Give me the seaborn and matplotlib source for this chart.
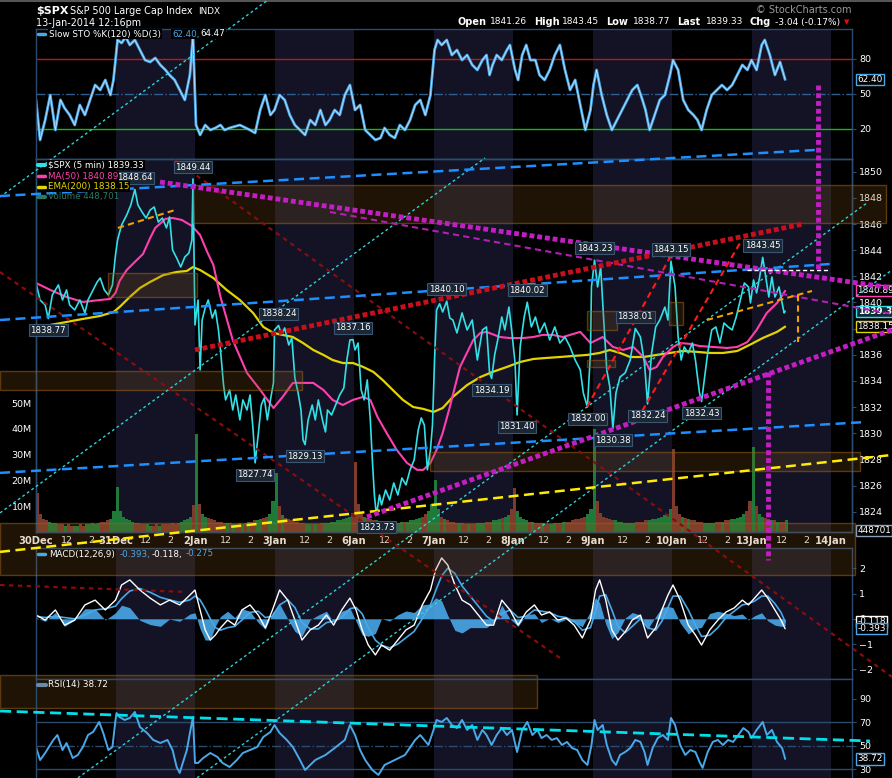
import numpy as np
import matplotlib
matplotlib.use("Agg")
import matplotlib.pyplot as plt
import seaborn as sns
from matplotlib.patches import Rectangle
from matplotlib.lines import Line2D

sns.set_theme(style="dark", rc={
    "figure.facecolor": "black", "axes.facecolor": "black",
    "axes.edgecolor": "#2b4c6f", "text.color": "white",
    "xtick.color": "white", "ytick.color": "white",
    "axes.grid": False, "axes.linewidth": 1.0,
})
plt.rcParams['font.family'] = ['DejaVu Sans']

W, H = 892, 778
BARS_PER_DAY = 78
X_MAX = 800.6

# ---------------- data ----------------
day_names = ["30Dec", "31Dec", "2Jan", "3Jan", "6Jan", "7Jan", "8Jan",
             "9Jan", "10Jan", "13Jan", "14Jan"]
shaded_days = [1, 3, 5, 7, 9]

# $SPX 5-min (bar index from 30Dec open, value)
price_bar = [0, 4, 9, 12, 16, 22, 26, 30, 33, 38, 43, 48, 51, 55, 60, 63, 67, 71, 75,
             78, 80, 84, 89, 93, 97, 100, 104, 108, 112, 116, 120, 124, 128, 131, 134, 138, 142, 146, 150, 153, 154,
             156, 159, 161, 163, 166, 169, 173, 176, 179, 181, 184, 186, 190, 193, 196, 200, 203, 207, 210, 213, 215,
             218, 221, 224, 227, 230, 233,
             234, 238, 241, 244, 248, 251, 254, 257, 260, 262, 264, 267, 271, 274, 277, 281, 284, 286, 290, 294, 298,
             302, 305, 308, 311,
             313, 316, 319, 322, 325, 328, 330, 332, 334, 337, 339, 343, 347, 351, 355, 359, 363, 367, 371, 375, 378,
             381, 384, 387, 389,
             391, 393, 396, 399, 403, 406, 409, 413, 418, 423, 428, 433, 438, 442, 445, 447, 450, 453, 457, 460, 464, 467,
             470, 472, 475, 479, 482, 486, 490, 494, 499, 504, 509, 514, 519, 524, 529, 534, 537, 541, 544, 545,
             548, 551, 554, 557, 560, 563, 566, 569, 573, 578, 583, 588, 593, 597, 600, 604, 608, 612, 617, 620, 623,
             627, 630, 633, 636, 640, 644, 647, 649, 651, 653, 656, 659, 663, 667, 671, 675, 679, 683, 687, 691, 695,
             699, 701,
             704, 707, 710, 713, 716, 719, 722, 725, 729, 732, 734, 735]
price_val = [1841.49, 1840.19, 1839.81, 1838.77, 1840.57, 1841.34, 1840.19, 1840.96, 1839.81, 1839.43, 1840.19,
             1839.20, 1840.19, 1840.80, 1841.57, 1841.87, 1840.96, 1840.57, 1841.34,
             1843.63, 1844.78, 1845.93, 1846.69, 1847.45, 1848.64, 1847.45, 1846.92, 1846.46, 1847.07, 1847.30,
             1846.15, 1846.46, 1845.70, 1846.54, 1844.01, 1843.40, 1842.71, 1843.48, 1843.78, 1844.78, 1849.44,
             1838.28, 1840.19, 1834.84, 1838.66, 1839.58, 1840.19, 1838.81, 1839.43, 1837.90, 1836.37, 1833.69,
             1832.55, 1833.31, 1831.78, 1832.93, 1831.02, 1832.55, 1831.78, 1832.93, 1830.25, 1827.74, 1829.87,
             1832.16, 1832.70, 1831.02, 1832.55, 1833.85,
             1837.90, 1838.24, 1837.52, 1838.05, 1836.75, 1837.28, 1834.21, 1833.16, 1831.78, 1829.49, 1829.13,
             1831.02, 1832.16, 1831.02, 1832.55, 1831.02, 1830.10, 1831.78, 1831.40, 1832.16, 1832.93, 1833.46,
             1835.60, 1837.13, 1837.16,
             1836.37, 1836.90, 1833.31, 1832.55, 1834.08, 1831.02, 1827.96, 1825.28, 1823.73, 1825.28, 1824.52,
             1825.66, 1824.90, 1826.20, 1825.28, 1826.58, 1826.05, 1827.20, 1827.96, 1830.25, 1831.17, 1830.63,
             1827.20, 1828.72, 1830.63,
             1835.60, 1839.43, 1839.90, 1839.27, 1840.10, 1838.81, 1838.66, 1837.67, 1839.20, 1837.90, 1838.66,
             1835.60, 1837.90, 1838.13, 1834.61, 1834.19, 1835.99, 1837.13, 1838.89, 1837.90, 1839.65, 1837.67,
             1835.37, 1831.40, 1836.60, 1838.89, 1840.02, 1838.13, 1838.89, 1837.67, 1838.43, 1837.13, 1838.13,
             1836.90, 1837.36, 1836.60, 1835.60, 1834.84, 1833.08, 1832.00, 1836.14, 1841.19,
             1843.23, 1841.19, 1842.71, 1838.66, 1834.84, 1833.54, 1830.38, 1833.08, 1834.30, 1834.61, 1835.60,
             1838.01, 1837.36, 1835.37, 1832.24, 1836.14, 1838.13, 1838.66, 1839.65, 1838.66, 1843.15,
             1841.19, 1837.36, 1835.60, 1836.60, 1836.14, 1836.90, 1835.60, 1834.30, 1833.08, 1832.43, 1834.30,
             1836.14, 1837.90, 1838.13, 1836.90, 1838.43, 1838.13, 1837.90, 1838.89, 1840.19, 1841.49, 1841.19,
             1839.96,
             1841.72, 1840.73, 1841.95, 1843.45, 1841.95, 1840.42, 1841.95, 1840.42, 1841.19, 1839.96, 1839.20,
             1839.33]

ma50_bar = [0, 14, 30, 46, 63, 73, 78, 82, 89, 97, 105, 112, 117, 127, 134, 143, 153, 161, 168, 174,
            181, 193, 207, 220, 233, 242, 252, 262, 272, 282, 291, 301, 311, 321, 328, 335, 344, 354, 364, 374,
            380, 387, 393, 399, 406, 416, 429, 436, 442, 455, 465, 478, 488, 497, 507, 517, 534, 544, 550, 556,
            566, 576, 586, 596, 602, 609, 615, 625, 632, 642, 651, 664, 678, 688, 698, 707, 717, 727, 735]
ma50_val = [1841.49, 1840.96, 1840.42, 1840.04, 1840.19, 1840.27, 1840.73, 1841.64, 1842.48, 1843.10,
            1843.71, 1844.93, 1845.70, 1846.39, 1846.46, 1846.31, 1845.85, 1845.16, 1843.86, 1842.87,
            1840.42, 1837.13, 1834.61, 1833.31, 1831.93, 1832.78, 1833.85, 1833.85, 1833.85, 1833.31,
            1832.55, 1832.16, 1832.55, 1832.78, 1832.55, 1831.25, 1830.02, 1828.72, 1827.73, 1827.20,
            1827.20, 1827.73, 1828.72, 1830.02, 1832.01, 1835.07, 1837.13, 1837.67, 1837.75, 1837.36,
            1837.28, 1837.28, 1837.36, 1837.52, 1837.52, 1837.36, 1837.75, 1836.90, 1837.13, 1837.36,
            1836.60, 1836.37, 1836.60, 1835.83, 1834.84, 1835.07, 1835.83, 1836.60, 1836.90, 1836.83,
            1836.67, 1836.60, 1836.52, 1836.60, 1836.98, 1837.90, 1839.20, 1839.96, 1840.89]

ema200_bar = [0, 14, 30, 46, 63, 76, 82, 92, 102, 112, 125, 138, 148, 154, 161, 174, 187, 200, 213, 223,
              233, 242, 252, 262, 272, 282, 291, 301, 311, 321, 331, 340, 350, 360, 370, 380, 390, 399, 409, 423,
              436, 448, 462, 475, 488, 501, 514, 527, 541, 553, 563, 573, 583, 596, 609, 622, 635, 649, 661, 674,
              688, 700, 713, 727, 735]
ema200_val = [1837.75, 1838.28, 1838.51, 1838.74, 1838.97, 1839.27, 1839.65, 1840.42, 1841.11, 1841.57,
              1842.10, 1842.33, 1842.41, 1842.71, 1842.48, 1841.87, 1840.96, 1840.19, 1839.20, 1838.13,
              1837.67, 1837.52, 1837.36, 1836.90, 1836.37, 1835.99, 1835.60, 1835.37, 1835.37, 1835.07,
              1834.69, 1834.08, 1833.31, 1832.55, 1832.01, 1831.86, 1831.63, 1831.93, 1832.78, 1833.69,
              1834.30, 1834.69, 1835.07, 1835.45, 1835.68, 1835.76, 1835.83, 1835.91, 1835.99, 1836.14,
              1836.37, 1836.14, 1835.83, 1835.83, 1835.99, 1836.14, 1836.29, 1836.22, 1836.14, 1836.14,
              1836.29, 1836.75, 1837.28, 1837.75, 1838.15]

# volume in millions, one value per 15 minutes, one row per session
vol_by_day = [
    [15, 7, 5, 4.5, 4, 3.5, 3.5, 3, 3, 2.5, 3, 2.5, 2.5, 2.5, 3, 2.5, 3, 3, 3.5, 3, 3.5, 4, 4, 4.5, 5, 8],
    [17.5, 8, 6, 5, 4.5, 4, 3.5, 3.5, 3, 3, 3, 2.5, 2.5, 3, 2.5, 3, 3, 3, 3.5, 3, 3.5, 4, 4.5, 5, 6, 10.5],
    [38, 11, 7, 6, 5.5, 5, 4.5, 4, 4, 3.5, 3.5, 3.5, 3, 3, 3.5, 3, 3.5, 4, 4, 4.5, 4.5, 5, 5.5, 6, 7, 12],
    [23, 10, 6.5, 5.5, 5, 4.5, 4, 4, 3.5, 3.5, 3, 3, 3, 3, 3, 3.5, 3.5, 3.5, 4, 4, 4.5, 4.5, 5, 5.5, 6, 7.5],
    [27, 11, 7, 6, 5.5, 5, 4.5, 4.5, 4, 4, 3.5, 3.5, 3.5, 3.5, 3.5, 4, 4, 4, 4.5, 4.5, 5, 5.5, 6, 7, 8, 11],
    [20, 9, 6, 5, 4.5, 4, 4, 3.5, 3.5, 3.5, 3, 3, 3, 3, 3.5, 3.5, 3.5, 4, 4, 4.5, 4.5, 5, 5.5, 6, 6.5, 9],
    [17, 8, 6, 5, 4.5, 4, 4, 3.5, 3.5, 3.5, 3, 3, 3, 3.5, 3.5, 3.5, 4, 4, 4, 4.5, 5, 5, 5.5, 6, 7, 9],
    [40, 12, 7.5, 6, 5.5, 5, 4.5, 4.5, 4, 4, 3.5, 3.5, 3.5, 3.5, 4, 4, 4, 4.5, 4.5, 5, 5, 5.5, 6, 6.5, 7, 9],
    [32, 10, 7, 6, 5.5, 5, 4.5, 4.5, 4, 4, 3.5, 3.5, 3.5, 3.5, 4, 4, 4, 4.5, 4.5, 5, 5, 5.5, 6, 7, 8, 12],
    [33, 10, 7, 6, 5.5, 5, 4.5, 4.5, 4, 4, 4, 4.5],
]

sto_bar = [0, 4, 9, 14, 19, 24, 28, 33, 38, 43,
           48, 53, 58, 63, 68, 73, 76, 78, 80, 84,
           88, 92, 97, 102, 107, 112, 117, 122, 127, 131,
           136, 141, 146, 151, 154, 157, 161, 166, 171, 176,
           181, 185, 190, 200, 210, 215, 220, 225, 230, 234,
           239, 244, 249, 254, 259, 264, 269, 274, 279, 284,
           288, 293, 298, 303, 308, 313, 318, 323, 328, 333,
           338, 342, 347, 352, 357, 362, 367, 372, 377, 382,
           387, 391, 394, 398, 403, 408, 413, 418, 423, 428,
           433, 438, 442, 445, 448, 452, 457, 462, 465, 470,
           473, 477, 481, 485, 490, 494, 499, 504, 509, 514,
           519, 524, 529, 534, 539, 544, 547, 550, 555, 560,
           565, 570, 575, 580, 585, 590, 595, 598, 602, 607,
           612, 617, 622, 625, 630, 635, 640, 645, 649, 653,
           658, 663, 668, 673, 678, 683, 688, 693, 698, 702,
           707, 712, 715, 720, 725, 730, 735]
sto_val = [44.9, 10.6, 27.7, 49.1, 19.1, 44.9, 38.0, 32.0, 23.4, 40.6,
           32.0, 44.9, 57.7, 53.4, 62.0, 49.1, 62.0, 79.1, 96.3, 93.7,
           98.9, 92.0, 96.3, 87.7, 79.1, 77.4, 80.9, 74.9, 70.6, 66.3,
           62.0, 53.4, 44.9, 66.3, 100.0, 23.4, 14.9, 23.4, 19.1, 20.9,
           23.4, 19.1, 20.9, 23.4, 19.1, 16.6, 36.3, 49.1, 32.0, 36.3,
           49.1, 44.9, 32.0, 23.4, 19.1, 14.9, 27.7, 23.4, 36.3, 23.4,
           27.7, 36.3, 32.0, 49.1, 57.7, 36.3, 40.6, 19.1, 14.9, 10.6,
           12.3, 20.9, 14.9, 12.3, 23.4, 19.1, 27.7, 40.6, 44.9, 32.0,
           49.1, 87.7, 96.3, 92.0, 96.3, 83.4, 87.7, 79.1, 83.4, 74.9,
           70.6, 79.1, 83.4, 66.3, 74.9, 83.4, 79.1, 87.7, 92.0, 70.6,
           62.0, 83.4, 92.0, 79.1, 79.1, 66.3, 62.0, 70.6, 83.4, 92.0,
           70.6, 53.4, 62.0, 40.6, 19.1, 36.3, 57.7, 70.6, 49.1, 32.0,
           19.1, 27.7, 36.3, 44.9, 53.4, 57.7, 44.9, 36.3, 19.1, 32.0,
           44.9, 49.1, 66.3, 79.1, 70.6, 44.9, 36.3, 32.0, 27.7, 19.1,
           36.3, 49.1, 53.4, 57.7, 53.4, 57.7, 66.3, 74.9, 70.6, 79.1,
           70.6, 92.0, 96.3, 83.4, 66.3, 77.4, 62.4]

macd_bar = [0, 9, 19, 28, 38, 48, 58, 68, 78, 84,
            92, 102, 112, 122, 131, 141, 151, 156, 161, 166,
            171, 176, 181, 188, 195, 202, 210, 218, 225, 232,
            239, 247, 254, 261, 269, 277, 285, 292, 300, 308,
            314, 320, 326, 333, 339, 347, 355, 363, 371, 379,
            387, 392, 398, 404, 411, 418, 426, 434, 442, 449,
            457, 465, 473, 481, 489, 496, 504, 512, 520, 528,
            536, 544, 549, 553, 559, 565, 571, 578, 585, 593,
            600, 608, 614, 620, 625, 632, 640, 647, 653, 661,
            669, 677, 685, 693, 699, 705, 712, 718, 725, 731, 735]
macd_val = [0.15, -0.05, 0.35, -0.25, -0.05, 0.55, 0.74, 0.35, 0.74, 1.34,
            1.54, 1.14, 0.82, 0.55, 0.74, 0.55, 0.94, 1.14, 0.35, -0.44,
            -0.84, -0.64, -0.36, -0.05, -0.25, 0.35, 0.55, 0.15, -0.36, 0.35,
            1.14, 0.74, -0.05, -0.84, -0.44, -0.25, 0.15, -0.25, 0.35, 0.82,
            0.35, -0.44, -1.04, -1.43, -1.04, -1.24, -0.84, -0.44, -0.25, 0.55,
            1.14, 1.93, 2.41, 2.13, 1.34, 0.74, 0.55, 0.15, -0.25, -0.25,
            0.74, 0.35, -0.25, 0.27, 0.55, 0.15, 0.27, -0.05, 0.03, -0.25,
            -0.76, -0.05, 1.14, 1.54, 0.74, -0.44, -0.84, -0.52, -0.05, 0.15,
            -0.76, -0.36, 0.35, 0.94, 1.34, 0.74, -0.25, -0.64, -1.04, -0.44,
            -0.05, 0.27, 0.43, 0.74, 0.55, 0.82, 1.14, 0.82, 0.35, -0.05, -0.393]
signal_val = [0.10, 0.05, 0.10, 0.05, 0.00, 0.15, 0.35, 0.40, 0.50, 0.80,
              1.10, 1.20, 1.05, 0.85, 0.75, 0.65, 0.75, 0.90, 0.75, 0.40,
              0.00, -0.35, -0.45, -0.35, -0.30, -0.05, 0.25, 0.30, 0.05, 0.10,
              0.55, 0.75, 0.45, -0.15, -0.40, -0.40, -0.15, -0.10, 0.05, 0.40,
              0.45, 0.20, -0.35, -0.85, -1.05, -1.15, -1.00, -0.75, -0.50, 0.00,
              0.55, 1.10, 1.70, 2.00, 1.80, 1.30, 0.90, 0.50, 0.10, -0.10,
              0.20, 0.35, 0.05, 0.10, 0.35, 0.30, 0.25, 0.10, 0.05, -0.10,
              -0.45, -0.35, 0.30, 0.90, 0.95, 0.35, -0.30, -0.55, -0.30, 0.00,
              -0.35, -0.45, -0.10, 0.45, 0.90, 0.90, 0.35, -0.25, -0.70, -0.65,
              -0.35, 0.05, 0.30, 0.55, 0.60, 0.70, 0.90, 0.90, 0.60, 0.25, -0.118]

rsi_bar = [0, 4, 9, 17, 21, 26, 30, 36, 41, 46, 51, 56, 62, 66, 71, 75, 78, 79, 82, 87,
           92, 97, 102, 109, 115, 122, 129, 134, 138, 141, 144, 148, 151, 154, 156, 159, 164, 171, 178, 183,
           190, 197, 203, 210, 217, 223, 230, 234, 239, 246, 252, 259, 264, 274, 284, 293, 303, 308, 313, 318,
           323, 330, 336, 342, 352, 362, 372, 377, 385, 390, 393, 398, 403, 408, 413, 418, 423, 428, 433, 438,
           442, 447, 452, 457, 462, 467, 472, 477, 482, 487, 492, 496, 501, 506, 511, 516, 521, 526, 531, 536,
           541, 545, 548, 551, 556, 560, 565, 569, 573, 578, 583, 588, 593, 597, 600, 605, 610, 615, 620, 623,
           627, 632, 637, 642, 647, 651, 654, 659, 664, 669, 674, 679, 684, 689, 694, 699, 702, 707, 713, 717,
           722, 727, 732, 734, 735]
rsi_val = [48.9, 37.8, 43.8, 54.9, 59.1, 46.3, 52.3, 39.5, 42.1, 48.9, 59.1, 61.7, 70.2, 60.8, 46.3, 48.9, 71.9,
           77.8, 74.4, 71.9,
           73.6, 78.7, 65.9, 60.8, 54.9, 52.3, 54.9, 46.3, 31.9, 26.8, 35.3, 46.3, 60.8, 74.4, 35.3, 35.3, 39.5,
           43.8, 40.4, 35.3,
           31.9, 37.8, 43.8, 46.3, 48.9, 57.4, 61.7, 67.6, 60.8, 54.9, 48.9, 37.8, 29.3, 37.8, 42.1, 48.0, 54.9,
           67.6, 59.1, 46.3,
           37.8, 29.3, 25.1, 33.6, 37.8, 42.1, 54.9, 59.1, 50.6, 63.4, 71.9, 70.2, 73.6, 67.6, 65.0, 71.9, 63.4,
           67.6, 54.9, 63.4,
           59.1, 50.6, 59.1, 65.0, 59.1, 63.4, 44.6, 63.4, 70.2, 59.1, 63.4, 56.5, 59.1, 54.9, 56.5, 50.6, 53.2,
           48.0, 46.3, 37.8,
           33.6, 50.6, 71.9, 63.4, 67.6, 50.6, 37.8, 33.6, 42.1, 44.6, 48.0, 54.9, 53.2, 44.6, 33.6, 48.0, 56.5,
           59.1, 54.9, 73.6,
           67.6, 50.6, 42.1, 46.3, 44.6, 36.1, 31.1, 44.6, 53.2, 54.9, 50.6, 54.9, 53.2, 59.1, 65.0, 61.7, 56.5,
           63.4, 70.2, 59.1,
           63.4, 53.2, 48.0, 42.1, 38.72]

# labelled swing highs / lows
peak_bar = [12, 97, 154, 215, 238, 264, 311, 334, 403, 447, 472, 482, 541, 548, 566, 588, 600, 623, 653, 713]
peak_val = [1838.77, 1848.64, 1849.44, 1827.74, 1838.24, 1829.13, 1837.16, 1823.73, 1840.10, 1834.19,
            1831.40, 1840.02, 1832.00, 1843.23, 1830.38, 1838.01, 1832.24, 1843.15, 1832.43, 1843.45]
peak_high = [False, True, True, False, True, False, True, False, True, False,
             False, True, False, True, False, True, False, True, False, True]

# hand-drawn annotations, in (bar, price) of the price panel
blue_dashed = [((-35.3, 1848.14), (764.3, 1851.66)),
               ((-35.3, 1838.66), (779.0, 1842.94)),
               ((-35.3, 1826.97), (814.3, 1830.86))]
yellow_dashed = [((-35.3, 1820.93), (839.8, 1828.34))]
magenta_thick = [((121.7, 1849.21), (839.8, 1841.11)),
                 ((324.7, 1823.60), (839.8, 1837.90)),
                 ((767.2, 1856.63), (767.2, 1842.49)),
                 ((718.2, 1834.69), (718.2, 1820.31))]
magenta_thin = [((288.4, 1846.92), (839.8, 1839.12))]
red_thick = [((156.0, 1836.37), (752.5, 1846.00))]
red_thin = [((540.6, 1832.01), (625.0, 1843.86)),
            ((589.6, 1831.02), (690.7, 1844.55))]
maroon_dotted = [((-35.3, 1842.33), (514.1, 1812.82)),
                 ((136.4, 1850.90), (839.8, 1811.37)),
                 ((-35.3, 1818.40), (146.2, 1817.87))]
cyan_dotted = [((-35.3, 1848.07), (227.6, 1863.13)),
               ((-35.3, 1823.91), (440.5, 1851.05)),
               ((41.2, 1803.65), (815.3, 1847.61)),
               ((158.0, 1803.65), (839.8, 1842.48))]
orange_dashed = [((80.4, 1845.70), (136.4, 1847.07)),
                 ((658.3, 1838.66), (761.3, 1840.88)),
                 ((747.6, 1840.57), (747.6, 1836.98))]
white_dashed = [((697.6, 1842.49), (779.0, 1842.49))]
zones = [(154.0, 833.9, 1846.08, 1848.98), (70.6, 158.0, 1840.42, 1842.26),
         (-35.3, 261.0, 1833.31, 1834.76), (386.6, 808.4, 1827.12, 1828.57),
         (-35.3, 803.5, 1819.17, 1823.14), (540.6, 570.0, 1837.90, 1839.35),
         (621.0, 634.8, 1838.28, 1840.04), (540.6, 568.1, 1835.07, 1835.60)]
rsi_zone = (-35.3, 491.5, 82.1, 110.2)
rsi_trend = ((-35.3, 79.5), (818.2, 54.0))

# ---------------- layout helpers ----------------
def rect(top, bottom, left=36, right=852):
    return [left / W, 1 - bottom / H, (right - left) / W, (bottom - top) / H]

def fx(px):
    return px / W

def fy(py):
    return 1 - py / H

C_SPINE = '#2b4c6f'
C_SHADE = '#131325'
C_CYAN = '#33e0e6'
C_PINK = '#ff3fb0'
C_YEL = '#e3d400'
C_BLUE = '#4aa8e8'
ZONE_FC = (0.55, 0.35, 0.1, 0.22)
ZONE_EC = (0.6, 0.38, 0.1, 0.55)
FS = 6.3

fig = plt.figure(figsize=(W / 100, H / 100), dpi=100)
fig.patch.set_facecolor('black')
ax_sto = fig.add_axes(rect(29, 159))
ax_vol = fig.add_axes(rect(159, 532))
ax = fig.add_axes(rect(159, 532), facecolor='none')
ax_macd = fig.add_axes(rect(548, 679))
ax_rsi = fig.add_axes(rect(679, 778))
ax_ann = fig.add_axes(rect(159, 532), facecolor='none', zorder=10)

for a in (ax_sto, ax_vol, ax, ax_macd, ax_rsi):
    a.set_xlim(0, X_MAX)
    for s in a.spines.values():
        s.set_color(C_SPINE)
        s.set_linewidth(1)
for a in (ax_sto, ax_vol, ax_macd, ax_rsi):
    for d in shaded_days:
        a.axvspan(d * BARS_PER_DAY, (d + 1) * BARS_PER_DAY, color=C_SHADE, lw=0, zorder=0)
ax_rsi.spines['bottom'].set_visible(False)

def right_axis(a, ticks):
    a.yaxis.tick_right()
    a.set_yticks(ticks)
    a.tick_params(axis='y', which='both', direction='out', length=3, width=0.8, color=C_SPINE,
                  pad=2, labelsize=6.8, labelcolor='white', left=False, right=True,
                  labelleft=False, labelright=True)
    a.tick_params(axis='x', bottom=False, labelbottom=False)

# ---------------- STO panel ----------------
ax_sto.set_ylim(-5.72, 105.71)
ax_sto.axhline(80, color='#cc1111', lw=1)
ax_sto.axhline(50, color='#2f5f8f', lw=1, ls='-.')
ax_sto.axhline(20, color='#11bb11', lw=1)
sns.lineplot(x=sto_bar, y=sto_val, ax=ax_sto, color=C_BLUE, lw=2.0, estimator=None)
sns.lineplot(x=sto_bar, y=sto_val, ax=ax_sto, color='#cfe9ff', lw=0.5, estimator=None)
right_axis(ax_sto, [20, 50, 80])
ax_sto.set_xlabel('')
ax_sto.set_ylabel('')

# ---------------- price + volume ----------------
vol_x, vol_h, vol_c = [], [], []
for d, row in enumerate(vol_by_day):
    for i, v in enumerate(row):
        b = d * BARS_PER_DAY + i * 3 + 1.5
        p0 = np.interp(b - 1.5, price_bar, price_val)
        p1 = np.interp(b + 1.5, price_bar, price_val)
        vol_x.append(b)
        vol_h.append(v)
        vol_c.append('#1f7a3a' if p1 >= p0 else '#7e3b2c')
ax_vol.bar(vol_x, vol_h, width=3.0, color=vol_c, linewidth=0, zorder=2)
ax_vol.set_ylim(0, 144.6)
ax_vol.yaxis.tick_left()
ax_vol.set_yticks([10, 20, 30, 40, 50])
ax_vol.set_yticklabels([f"{t}M" for t in [10, 20, 30, 40, 50]])
ax_vol.tick_params(axis='y', length=0, pad=3, labelsize=6.8, labelcolor='white')
ax_vol.tick_params(axis='x', bottom=False, labelbottom=False)

ax.set_ylim(1822.45, 1850.97)
sns.lineplot(x=ema200_bar, y=ema200_val, ax=ax, color=C_YEL, lw=1.6, estimator=None)
sns.lineplot(x=ma50_bar, y=ma50_val, ax=ax, color=C_PINK, lw=1.5, estimator=None)
sns.lineplot(x=price_bar, y=price_val, ax=ax, color=C_CYAN, lw=1.2, estimator=None)
right_axis(ax, list(range(1824, 1851, 2)))
ax.set_xlabel('')
ax.set_ylabel('')

tick_pos, tick_lab = [], []
for d, name in enumerate(day_names):
    for off, lab in ((0, name), (30, "12"), (54, "2")):
        b = d * BARS_PER_DAY + off
        if b <= X_MAX:
            tick_pos.append(b)
            tick_lab.append(lab)
ax.set_xticks(tick_pos)
ax.set_xticklabels(tick_lab)
ax.tick_params(axis='x', bottom=True, labelbottom=True, length=0, pad=3, labelsize=6.8, labelcolor='white')
for t in ax.get_xticklabels():
    if t.get_text() not in ("12", "2"):
        t.set_fontweight('bold')
        t.set_fontsize(7.2)

# ---------------- MACD ----------------
ax_macd.set_ylim(-2.384, 2.804)
hist = np.array(macd_val) - np.array(signal_val)
ax_macd.fill_between(macd_bar, hist, 0, color=C_BLUE, alpha=0.9, lw=0, zorder=2)
sns.lineplot(x=macd_bar, y=signal_val, ax=ax_macd, color=C_BLUE, lw=1.2, estimator=None)
sns.lineplot(x=macd_bar, y=macd_val, ax=ax_macd, color='white', lw=1.0, estimator=None)
right_axis(ax_macd, [-2, -1, 0, 1, 2])
ax_macd.set_xlabel('')
ax_macd.set_ylabel('')

# ---------------- RSI ----------------
ax_rsi.set_ylim(22.51, 106.77)
ax_rsi.axhline(70, color=C_SPINE, lw=1)
ax_rsi.axhline(30, color=C_SPINE, lw=1)
ax_rsi.axhline(50, color=C_SPINE, lw=1, ls='-.')
sns.lineplot(x=rsi_bar, y=rsi_val, ax=ax_rsi, color=C_BLUE, lw=1.4, estimator=None)
right_axis(ax_rsi, [30, 50, 70, 90])
ax_rsi.set_xlabel('')
ax_rsi.set_ylabel('')
ax_rsi.add_patch(Rectangle((rsi_zone[0], rsi_zone[2]), rsi_zone[1] - rsi_zone[0], rsi_zone[3] - rsi_zone[2],
                           facecolor=ZONE_FC, edgecolor=ZONE_EC, lw=1, clip_on=False, zorder=1))
ax_rsi.plot([rsi_trend[0][0], rsi_trend[1][0]], [rsi_trend[0][1], rsi_trend[1][1]], color='#00e0ea',
            lw=2, ls=(0, (4, 2)), clip_on=False, zorder=5)

# ---------------- annotations overlay ----------------
ax_ann.set_xlim(0, X_MAX)
ax_ann.set_ylim(1822.45, 1850.97)
ax_ann.axis('off')

for x0, x1, y0, y1 in zones:
    ax_ann.add_patch(Rectangle((x0, y0), x1 - x0, y1 - y0, facecolor=ZONE_FC, edgecolor=ZONE_EC,
                               lw=1, clip_on=False, zorder=1))

def draw(lines, **kw):
    for (x0, y0), (x1, y1) in lines:
        ax_ann.plot([x0, x1], [y0, y1], clip_on=False, solid_capstyle='butt', dash_capstyle='butt', **kw)

draw(cyan_dotted, color='#2bd3d8', lw=1.0, ls=(0, (2, 2)), zorder=2)
draw(maroon_dotted, color='#8a0c0c', lw=1.6, ls=(0, (2, 2)), zorder=2)
draw(blue_dashed, color='#1e8fff', lw=1.8, ls=(0, (4, 2.2)), zorder=3)
draw(yellow_dashed, color='#ffec00', lw=1.8, ls=(0, (4, 2.2)), zorder=3)
draw(magenta_thin, color='#b21fb2', lw=1.5, ls=(0, (3, 2)), zorder=3)
draw(magenta_thick, color='#c21ec2', lw=3.5, ls=(0, (1, 0.6)), zorder=3)
draw(red_thick, color='#c8101c', lw=3.5, ls=(0, (1, 0.6)), zorder=3)
draw(red_thin, color='#ff1a1a', lw=1.5, ls=(0, (3, 2)), zorder=3)
draw(orange_dashed, color='#f0a000', lw=1.5, ls=(0, (3, 2)), zorder=3)
draw(white_dashed, color='white', lw=1.0, ls=(0, (3, 2)), zorder=3)

for b, v, hi in zip(peak_bar, peak_val, peak_high):
    ax_ann.annotate(f"{v:.2f}", xy=(b, v), xytext=(0, 8.5 if hi else -8.5), textcoords='offset points',
                    ha='center', va='center', fontsize=6.2, color='white', annotation_clip=False, zorder=6,
                    bbox=dict(boxstyle='square,pad=0.18', facecolor='#1b2735', edgecolor='#3b5570', lw=0.8))

# right-hand value tags
def tag(a, val, text, edge, face='black', bold=False):
    a.annotate(text, xy=(1.0, val), xycoords=('axes fraction', 'data'), xytext=(4, 0),
               textcoords='offset points', ha='left', va='center', fontsize=6.4, color='white',
               fontweight='bold' if bold else 'normal', annotation_clip=False, zorder=20,
               bbox=dict(boxstyle='square,pad=0.12', facecolor=face, edgecolor=edge, lw=1))

tag(ax_sto, 62.40, "62.40", C_BLUE)
tag(ax, 1840.89, "1840.89", C_PINK)
tag(ax, 1838.15, "1838.15", C_YEL)
tag(ax, 1839.33, "1839.33", C_CYAN, face='#0f2a38', bold=True)
tag(ax_vol, 0.45, "448701", '#8aa0b8')
tag(ax_macd, -0.118, "-0.118", 'white')
tag(ax_macd, -0.393, "-0.393", C_BLUE)
tag(ax_rsi, 38.72, "38.72", C_BLUE)

# ---------------- header & legends ----------------
fig.add_artist(Line2D([0, 1], [fy(0.5), fy(0.5)], transform=fig.transFigure, color='#555555', lw=1.5))
fig.text(fx(36), fy(11), "$SPX", fontsize=8, fontweight='bold', va='center')
fig.text(fx(70), fy(11), "S&P 500 Large Cap Index", fontsize=6.9, va='center')
fig.text(fx(198), fy(11), "INDX", fontsize=6.4, va='center')
fig.text(fx(36), fy(23), "13-Jan-2014 12:16pm", fontsize=6.9, va='center')
fig.text(fx(851), fy(10), "© StockCharts.com", fontsize=7.0, color='#9a9a9a', ha='right', va='center')

header_parts = [(457, "Open", True), (490, "1841.26", False), (534, "High", True), (562, "1843.45", False),
                (606, "Low", True), (633, "1838.77", False), (677, "Last", True), (706, "1839.33", False),
                (750, "Chg", True), (775, "-3.04 (-0.17%)", False)]
for x, s, bold in header_parts:
    fig.text(fx(x), fy(22), s, fontsize=7.0 if bold else 6.5, fontweight='bold' if bold else 'normal',
             va='center')
fig.text(fx(847), fy(22), "▼", fontsize=5, color='#e01010', ha='center', va='center')

def swatch(x0, x1, y, color, lw=2.5):
    fig.add_artist(Line2D([fx(x0), fx(x1)], [fy(y), fy(y)], transform=fig.transFigure, color=color, lw=lw,
                          zorder=30))

def ltext(x, y, s, color='white', box=True):
    fig.text(fx(x), fy(y), s, fontsize=FS, color=color, va='center', zorder=30,
             bbox=dict(boxstyle='square,pad=0.1', facecolor='black', edgecolor='none') if box else None)

swatch(38, 45, 34, C_BLUE)
ltext(49, 34, "Slow STO %K(120) %D(3)")
ltext(172, 34, "62.40,", C_BLUE)
ltext(200, 34, "64.47")

swatch(38, 45, 165, C_CYAN, lw=3)
ltext(48, 165, "$SPX (5 min) 1839.33")
swatch(38, 45, 176, C_PINK)
ltext(48, 176, "MA(50) 1840.89", C_PINK)
swatch(38, 45, 186.5, C_YEL)
ltext(48, 186.5, "EMA(200) 1838.15", C_YEL)
swatch(38, 45, 197, '#2a7a66', lw=3)
ltext(48, 197, "Volume 448,701", '#2a7a66', box=False)

swatch(38, 45, 554, C_BLUE)
ltext(49, 554, "MACD(12,26,9)", box=False)
ltext(120, 554, "-0.393,", C_BLUE, box=False)
ltext(152, 554, "-0.118,", box=False)
ltext(186, 554, "-0.275", C_BLUE, box=False)

swatch(38, 46, 685, '#6a8aa8', lw=3)
ltext(48, 685, "RSI(14) 38.72", box=False)

fig.savefig("out.png", dpi=100, facecolor='black')
